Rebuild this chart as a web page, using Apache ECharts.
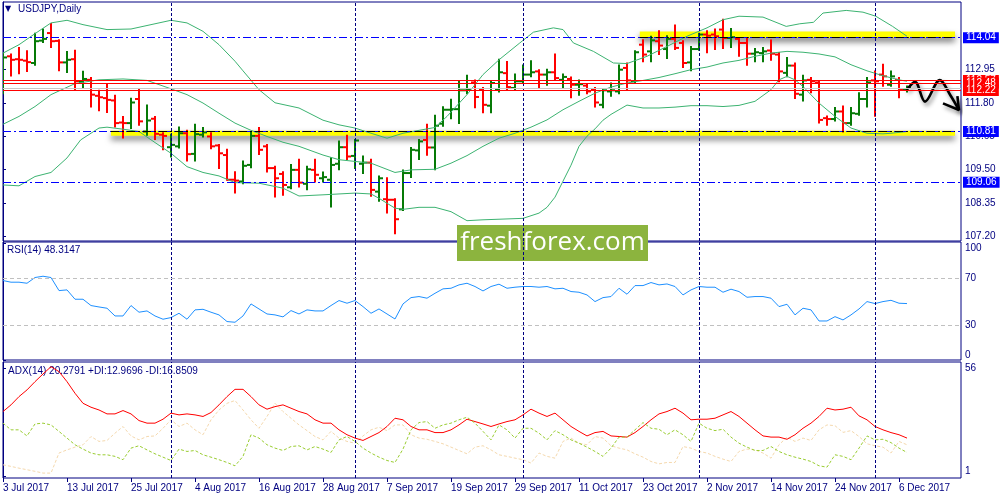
<!DOCTYPE html>
<html>
<head>
<meta charset="utf-8">
<title>USDJPY Daily</title>
<script src="https://cdn.jsdelivr.net/npm/echarts@6/dist/echarts.min.js"></script>
<style>
  html, body { margin: 0; padding: 0; background: #fff; }
  #chart { width: 1000px; height: 500px; }
</style>
</head>
<body>
<div id="chart"></div>
<script>
const symbolTitle = 'USDJPY,Daily';
const rsiTitle = 'RSI(14) 48.3147';
const adxTitle = 'ADX(14) 20.2791 +DI:12.9696 -DI:16.8509';
const watermark = 'freshforex.com';

// bar index of each date label (one label every 8 trading days)
const dateLabelIdx = [0, 8, 16, 24, 32, 40, 48, 56, 64, 72, 80, 88, 96, 104, 112];
const dateLabels = ['3 Jul 2017', '13 Jul 2017', '25 Jul 2017', '4 Aug 2017', '16 Aug 2017',
  '28 Aug 2017', '7 Sep 2017', '19 Sep 2017', '29 Sep 2017', '11 Oct 2017', '23 Oct 2017',
  '2 Nov 2017', '14 Nov 2017', '24 Nov 2017', '6 Dec 2017'];
const monthStarts = [21, 44, 65, 87, 109];

// daily bars: [open, high, low, close]
const bars = [
  [112.40, 113.51, 112.13, 113.36], [113.40, 113.46, 112.74, 113.28], [113.30, 113.69, 112.82, 113.28],
  [113.25, 113.57, 112.89, 113.20], [113.17, 114.18, 113.11, 113.92], [113.94, 114.32, 113.89, 114.00],
  [114.20, 114.51, 113.72, 113.92], [113.93, 113.95, 112.92, 113.19], [113.19, 113.55, 112.86, 113.28],
  [113.30, 113.59, 112.25, 112.54], [112.52, 112.87, 112.34, 112.62], [112.59, 112.65, 111.67, 112.08],
  [112.04, 112.21, 111.54, 111.99], [111.96, 112.42, 111.48, 111.90], [111.88, 112.04, 110.98, 111.10],
  [111.12, 111.31, 110.60, 111.10], [111.10, 111.94, 110.93, 111.81], [111.93, 112.25, 111.04, 111.16],
  [110.81, 111.71, 110.70, 111.19], [111.25, 111.31, 110.55, 110.73], [110.70, 110.75, 110.20, 110.66],
  [110.27, 110.70, 109.95, 110.35], [110.30, 110.95, 110.26, 110.75], [110.75, 110.84, 109.81, 110.03],
  [110.04, 111.04, 109.81, 110.72], [110.70, 110.93, 110.64, 110.78], [110.64, 110.75, 110.23, 110.30],
  [110.33, 110.35, 109.55, 110.06], [110.00, 110.18, 109.15, 109.15], [109.15, 109.41, 108.71, 109.12],
  [109.09, 109.78, 109.03, 109.63], [109.66, 110.78, 109.58, 110.66], [110.66, 110.93, 110.04, 110.18],
  [110.30, 110.35, 109.43, 109.55], [109.55, 109.60, 108.57, 109.20], [109.35, 109.41, 108.63, 108.97],
  [108.89, 109.66, 108.86, 109.49], [109.49, 109.84, 108.92, 109.05], [109.01, 109.60, 108.82, 109.51],
  [109.49, 109.84, 109.09, 109.32], [109.20, 109.40, 109.09, 109.24], [109.15, 109.89, 108.23, 109.66],
  [109.70, 110.47, 109.51, 110.27], [110.27, 110.66, 109.86, 109.95], [109.97, 110.52, 109.55, 110.50],
  [109.70, 109.95, 109.38, 109.74], [109.74, 109.84, 108.60, 108.80], [108.74, 109.26, 108.43, 109.20],
  [108.48, 109.20, 108.02, 108.46], [108.46, 108.48, 107.31, 107.79], [108.13, 109.47, 108.11, 109.38],
  [109.38, 110.24, 109.24, 110.18], [110.16, 110.52, 109.86, 110.47], [110.52, 111.04, 110.01, 110.26],
  [110.26, 111.35, 109.51, 111.01], [111.08, 111.65, 111.01, 111.56], [111.56, 111.90, 111.27, 111.58],
  [111.58, 112.54, 111.10, 112.23], [112.23, 112.73, 112.13, 112.25], [112.50, 112.57, 111.65, 112.00],
  [112.25, 112.31, 111.47, 111.73], [111.70, 112.54, 111.47, 112.48], [112.27, 113.28, 112.19, 112.85],
  [112.82, 113.20, 112.25, 112.34], [112.31, 112.77, 112.25, 112.54], [112.54, 113.08, 112.50, 112.77],
  [112.77, 113.23, 112.71, 112.85], [112.88, 112.92, 112.31, 112.77], [112.77, 112.94, 112.42, 112.85],
  [112.85, 113.46, 112.59, 112.65], [112.59, 112.77, 112.34, 112.69], [112.62, 112.67, 111.99, 112.42],
  [112.42, 112.57, 112.08, 112.44], [112.39, 112.42, 112.13, 112.19], [112.25, 112.31, 111.67, 111.81],
  [111.73, 112.27, 111.65, 112.23], [112.19, 112.46, 112.04, 112.23], [112.19, 113.08, 112.13, 112.94],
  [113.00, 113.15, 112.25, 112.57], [112.54, 113.57, 112.50, 113.54], [113.80, 113.95, 113.23, 113.46],
  [113.57, 114.07, 113.23, 113.95], [113.92, 114.26, 113.48, 113.77], [113.65, 114.09, 113.34, 114.00],
  [114.00, 114.46, 113.65, 113.69], [113.86, 113.92, 113.03, 113.17], [113.19, 113.72, 112.92, 113.65],
  [113.65, 114.18, 113.63, 114.15], [114.15, 114.26, 113.54, 114.11], [114.15, 114.32, 113.65, 114.09],
  [114.32, 114.66, 113.69, 114.03], [114.03, 114.34, 113.72, 114.06], [114.00, 114.03, 113.42, 113.86],
  [113.86, 114.03, 113.11, 113.49], [113.49, 113.65, 113.23, 113.54], [113.51, 113.69, 113.23, 113.57],
  [113.60, 113.94, 113.28, 113.49], [113.46, 113.51, 112.54, 112.88], [112.83, 113.34, 112.71, 113.08],
  [113.08, 113.15, 111.96, 112.11], [112.08, 112.73, 111.88, 112.57], [112.59, 112.65, 112.16, 112.54],
  [112.50, 112.54, 111.12, 111.21], [111.27, 111.33, 111.04, 111.24], [111.24, 111.62, 111.19, 111.50],
  [111.50, 111.67, 110.81, 111.10], [111.10, 111.62, 111.04, 111.44], [111.42, 112.13, 111.39, 111.93],
  [111.93, 112.65, 111.67, 112.50], [112.57, 112.88, 111.35, 112.54], [112.77, 113.11, 112.39, 112.71],
  [112.42, 112.88, 112.39, 112.71], [112.59, 112.65, 111.99, 112.27], [112.25, 112.36, 112.19, 112.31]
];

// Bollinger bands: [bar index, price]
const bbUpper = [[0,113.51],[2,113.80],[4,114.18],[6,114.55],[8,114.64],[10,114.49],[13,114.32],[16,114.34],
  [19,114.52],[21,114.64],[23,114.55],[25,114.26],[27,113.80],[29,113.23],[30,112.90],[32,112.25],[34,111.80],
  [37,111.62],[40,111.20],[42,111.04],[44,110.93],[46,110.75],[48,110.58],[50,110.75],[52,110.85],[54,110.95],
  [55.5,111.33],[58,112.08],[60,112.77],[62,113.28],[64.6,113.86],[66.3,114.23],[68.8,114.38],[70,114.32],
  [71.3,113.86],[73.8,113.57],[76.3,113.17],[78,113.15],[80.5,113.40],[83,113.74],[85.5,114.09],[88,114.38],
  [90,114.66],[92,114.78],[95,114.75],[97.9,114.43],[99.6,114.52],[101.3,114.57],[102.5,114.89],[105.4,114.98],
  [107.5,114.92],[109.1,114.78],[111.2,114.43],[113,114.09]];
const bbMiddle = [[0,111.06],[2,111.33],[4,111.67],[6,112.08],[9,112.46],[12,112.59],[15,112.62],[18,112.57],
  [21,112.28],[23,112.08],[25,111.79],[27,111.44],[29,111.10],[31,110.85],[33,110.64],[35,110.44],[37,110.30],
  [40,110.00],[42,109.84],[44,109.78],[46,109.72],[49,109.40],[51,109.49],[54,109.51],[56,109.72],[58,109.98],
  [60,110.30],[62,110.58],[64,110.75],[66,110.96],[68,111.21],[70,111.56],[72,111.85],[74,112.13],[76,112.34],
  [78,112.48],[80,112.57],[82,112.67],[84,112.80],[86,112.94],[88,113.03],[90,113.17],[92,113.26],[94,113.40],
  [96,113.51],[98,113.57],[100,113.54],[102,113.48],[104,113.38],[106,113.11],[108,112.90],[110,112.73],
  [112,112.59],[113,112.54]];
const bbLower = [[0,108.97],[2,108.94],[4,109.26],[6,109.40],[8,109.90],[9.7,110.52],[12,110.93],[13,110.96],
  [15,110.89],[17,110.81],[19,110.43],[21,110.06],[23,109.60],[25,109.40],[27,109.28],[29,109.05],[32,109.03],
  [35,108.86],[37,108.59],[40,108.63],[44,108.69],[46,108.66],[47,108.51],[49,108.17],[50,108.13],[52,108.20],
  [54,108.20],[56,108.05],[58,107.74],[60,107.77],[62,107.79],[65,107.82],[67,108.00],[68,108.20],[69,108.55],
  [70,109.10],[71,109.65],[72,110.30],[73,110.65],[74,110.90],[75,111.20],[76,111.40],[78,111.72],[80,111.62],
  [82,111.62],[84,111.65],[86,111.70],[88,111.70],[90,111.67],[92,111.71],[94,111.85],[96,112.25],[97,112.59],
  [98,112.71],[99,112.59],[100,112.36],[102,111.79],[104,111.33],[106,110.93],[108,110.75],[110,110.73],
  [111,110.75],[113,110.81]];

const rsi = [68.0,66.6,66.6,65.7,70.6,71.7,70.6,59.4,60.0,52.0,
  52.0,46.6,45.4,44.3,37.7,37.7,46.6,40.9,42.0,37.7,
  34.9,36.3,40.0,34.9,42.9,43.4,40.9,38.6,32.9,32.3,
  37.7,48.0,43.7,39.4,38.6,36.9,42.3,39.4,42.9,42.0,
  42.0,46.6,50.9,48.6,50.9,45.7,40.0,43.7,39.4,35.1,
  48.0,53.4,54.3,52.9,57.1,60.9,61.4,64.3,65.7,62.9,
  59.1,62.9,64.9,61.4,62.3,62.9,62.9,62.3,62.9,60.9,
  61.4,58.6,58.0,55.7,50.0,53.4,54.3,61.4,56.3,63.7,
  63.7,66.3,64.3,65.1,62.9,55.7,60.0,62.9,62.3,62.3,
  58.0,60.6,58.6,53.7,54.3,54.3,52.9,45.7,47.7,38.6,
  44.3,42.9,33.4,33.4,37.1,34.3,38.6,43.7,50.0,48.3,
  50.0,51.1,48.6,48.3];

const adx = [33.8,37.2,41.4,44.8,49.0,52.9,56.6,54.1,49.0,43.1,
  38.0,36.0,34.6,32.6,32.6,34.3,32.6,29.2,27.9,27.9,
  29.9,33.0,32.1,32.6,32.1,31.3,33.3,37.2,41.4,45.1,
  45.1,41.4,37.2,35.0,36.3,37.2,35.5,33.8,32.6,29.6,
  27.9,27.9,24.5,22.0,20.3,19.1,21.1,23.1,26.2,30.4,
  29.6,26.2,24.5,24.5,23.1,23.1,24.5,27.0,29.9,28.7,
  27.5,26.2,27.5,28.7,29.6,32.1,35.0,33.0,31.3,33.0,
  29.6,26.2,23.7,21.4,23.1,23.7,21.4,21.1,20.8,23.1,
  26.2,29.6,32.6,33.8,35.5,33.0,29.6,29.9,29.9,30.4,
  32.1,33.8,31.3,27.9,24.5,21.4,20.8,20.8,19.7,22.0,
  25.3,27.9,31.3,35.5,34.6,35.0,36.0,31.6,29.6,26.2,
  24.5,23.1,22.0,20.3];
const plusDI = [27.9,24.5,24.5,21.4,27.5,27.9,27.0,23.7,20.3,16.9,
  14.7,12.7,11.8,11.8,11.0,9.3,15.2,16.4,14.3,12.3,
  10.6,8.9,14.7,13.5,14.0,11.8,10.6,9.3,7.9,6.2,
  11.0,22.0,20.3,16.9,15.2,14.0,16.0,16.4,14.3,16.0,
  14.7,13.0,19.4,21.1,18.6,15.2,12.7,10.6,8.9,7.9,
  14.7,24.5,28.2,28.7,25.3,27.0,27.9,29.6,30.9,27.9,
  23.7,19.4,27.0,24.5,20.3,25.3,25.3,22.8,19.4,24.1,
  22.0,19.4,17.7,15.7,13.5,11.0,15.2,20.8,20.8,24.5,
  28.2,25.3,24.8,22.0,24.5,22.0,18.6,27.9,25.3,24.1,
  24.8,20.8,17.7,15.7,14.0,14.0,16.0,13.5,11.8,10.6,
  9.6,8.4,6.2,5.5,11.8,11.0,9.3,15.2,21.4,19.4,
  19.7,18.0,15.2,13.0];
const minusDI = [6.7,5.9,5.0,4.2,3.4,2.5,2.5,12.7,14.3,15.7,
  16.9,21.1,18.6,19.1,22.8,26.2,21.4,19.4,21.1,21.4,
  25.3,29.6,26.2,27.9,24.5,22.0,29.6,34.6,38.0,39.4,
  34.6,29.6,25.3,31.3,38.0,33.8,30.4,27.0,24.1,21.1,
  19.4,23.7,20.3,18.6,17.7,21.4,24.5,25.8,24.1,27.0,
  27.0,22.0,20.3,19.7,18.6,17.4,15.7,14.0,12.3,15.7,
  16.4,14.3,11.8,11.0,10.1,9.3,7.6,12.7,11.0,10.1,
  18.6,20.3,17.7,16.9,21.1,20.3,16.4,15.2,14.3,12.3,
  10.6,8.4,7.2,7.9,7.9,16.0,15.2,13.5,12.7,11.0,
  9.6,8.4,13.5,14.7,14.3,12.7,10.1,16.9,20.8,18.6,
  20.3,19.1,24.5,27.0,26.6,23.2,24.1,21.1,17.4,16.4,
  15.7,12.7,18.6,16.9];

const priceTicks = [107.20, 108.35, 109.50, 110.65, 111.80, 112.95];
const rsiTicks = [0, 30, 70, 100];
const rsiLevels = [70, 30];
const adxTicks = [1, 56];

const blueLevels = [114.04, 110.81, 109.06];
const redLevels = [112.57, 112.48, 112.22];
const bidLevel = 112.31;
// yellow zones: [from bar, to bar, low price, high price]
const zones = [[79.6, 119, 114.04, 114.25], [13.5, 119, 110.66, 110.84]];
// hand drawn forecast: [bar index, price]
const forecastPath = [[112.96, 112.24], [114.0, 112.52], [115.25, 111.84], [117.1, 112.58], [118.4, 112.07], [119.5, 111.55]];
const forecastHead = [[117.5, 111.78], [119.5, 111.55], [119.3, 112.03]];

const NAVY = '#000080';
const FONT = 'Liberation Sans';
const UP = '#067a06';
const DOWN = '#ff0000';
const BB = '#3cb371';

const chart = echarts.init(document.getElementById('chart'));

const sepLines = monthStarts.map(i => ({
  xAxis: i, lineStyle: { color: NAVY, type: [3, 2], width: 1 }, label: { show: false }
}));

function priceBox(v, bg) {
  return {
    show: true, position: 'end', distance: 2, formatter: v.toFixed(2),
    color: '#fff', backgroundColor: bg, padding: [1, 3, 0, 3],
    fontSize: 10, fontFamily: FONT
  };
}

function xAxis(gi, labels) {
  return {
    type: 'value', gridIndex: gi, min: 0, max: 119.75,
    axisLine: { show: false }, splitLine: { show: false },
    axisTick: labels ? { show: true, customValues: dateLabelIdx, length: 4, lineStyle: { color: NAVY } } : { show: false },
    axisLabel: labels ? {
      show: true, customValues: dateLabelIdx, align: 'left', color: NAVY, fontSize: 10, fontFamily: FONT, margin: 5,
      formatter: v => dateLabels[dateLabelIdx.indexOf(v)]
    } : { show: false }
  };
}

function yAxis(gi, min, max, ticks, fmt, extra) {
  return {
    type: 'value', gridIndex: gi, position: 'right', min: min, max: max,
    axisLine: { show: true, lineStyle: { color: NAVY, width: 1 } },
    axisTick: { show: true, customValues: ticks, length: 3, lineStyle: { color: NAVY } },
    axisLabel: Object.assign({ customValues: ticks, formatter: fmt, color: NAVY, fontSize: 10, fontFamily: FONT, margin: 4 }, extra || {}),
    splitLine: { show: false }
  };
}

const option = {
  animation: false,
  backgroundColor: '#fff',
  textStyle: { fontFamily: FONT },
  grid: [
    { left: 3, right: 39, top: 2, height: 239, show: true, borderColor: NAVY, borderWidth: 1 },
    { left: 3, right: 39, top: 242, height: 118, show: true, borderColor: NAVY, borderWidth: 1 },
    { left: 3, right: 39, top: 362, height: 116, show: true, borderColor: NAVY, borderWidth: 1 }
  ],
  xAxis: [xAxis(0, false), xAxis(1, false), xAxis(2, true)],
  yAxis: [
    yAxis(0, 107.04, 115.27, priceTicks, v => v.toFixed(2)),
    yAxis(1, 0, 101, rsiTicks, v => String(v), { verticalAlignMaxLabel: 'top', verticalAlignMinLabel: 'bottom' }),
    yAxis(2, 0, 59, adxTicks, v => String(v), { verticalAlignMinLabel: 'bottom' })
  ],
  series: [
    {
      name: 'zones', type: 'line', xAxisIndex: 0, yAxisIndex: 0, data: [], silent: true,
      markArea: {
        silent: true,
        itemStyle: { color: '#ffff00', shadowColor: 'rgba(0,0,0,0.55)', shadowBlur: 6, shadowOffsetY: 4 },
        data: zones.map(z => [{ coord: [z[0], z[3]] }, { coord: [z[1], z[2]] }])
      }
    },
    {
      name: 'USDJPY', type: 'custom', xAxisIndex: 0, yAxisIndex: 0, clip: true,
      data: bars.map((b, i) => [i, b[0], b[1], b[2], b[3]]),
      encode: { x: 0, y: [1, 2, 3, 4] },
      renderItem: function (params, api) {
        const i = api.value(0);
        const o = api.value(1), h = api.value(2), l = api.value(3), c = api.value(4);
        const pH = api.coord([i, h]), pL = api.coord([i, l]);
        const pO = api.coord([i, o]), pC = api.coord([i, c]);
        const col = c >= o ? UP : DOWN;
        const st = { stroke: col, lineWidth: 2 };
        return {
          type: 'group',
          children: [
            { type: 'line', shape: { x1: pH[0], y1: pH[1] - 1, x2: pL[0], y2: pL[1] + 1 }, style: st },
            { type: 'line', shape: { x1: pO[0] - 4, y1: pO[1], x2: pO[0], y2: pO[1] }, style: st },
            { type: 'line', shape: { x1: pC[0], y1: pC[1], x2: pC[0] + 4, y2: pC[1] }, style: st }
          ]
        };
      }
    },
    { name: 'BB upper', type: 'line', xAxisIndex: 0, yAxisIndex: 0, data: bbUpper, showSymbol: false, lineStyle: { color: BB, width: 1 } },
    { name: 'BB middle', type: 'line', xAxisIndex: 0, yAxisIndex: 0, data: bbMiddle, showSymbol: false, lineStyle: { color: BB, width: 1 } },
    { name: 'BB lower', type: 'line', xAxisIndex: 0, yAxisIndex: 0, data: bbLower, showSymbol: false, lineStyle: { color: BB, width: 1 } },
    {
      name: 'levels', type: 'line', xAxisIndex: 0, yAxisIndex: 0, data: [], silent: true,
      markLine: {
        silent: true, symbol: ['none', 'none'], precision: 2,
        data: [].concat(
          sepLines,
          [{ yAxis: bidLevel, lineStyle: { color: '#c8c8c8', type: 'solid', width: 1 }, label: { show: false } }],
          redLevels.map(v => ({ yAxis: v, lineStyle: { color: '#ff0000', type: 'solid', width: 1 }, label: priceBox(v, '#ff0000') })),
          blueLevels.map(v => ({ yAxis: v, lineStyle: { color: '#0000ff', type: [8, 3, 2, 3], width: 1 }, label: priceBox(v, '#0000ff') })),
          zones.map(z => {
            const lv = blueLevels.find(b => b === z[2] || Math.abs(b - z[3]) < 0.05) || z[2];
            return [{ coord: [z[0], lv], lineStyle: { color: '#000', type: [8, 3, 2, 3], width: 1 }, label: { show: false } }, { coord: [z[1], lv] }];
          })
        )
      }
    },
    {
      name: 'forecast', type: 'line', xAxisIndex: 0, yAxisIndex: 0, data: forecastPath, smooth: 0.35, showSymbol: false, clip: false,
      lineStyle: { color: '#000', width: 2.6, shadowColor: 'rgba(0,0,0,0.45)', shadowBlur: 4, shadowOffsetX: 2, shadowOffsetY: 3 }
    },
    {
      name: 'forecast head', type: 'line', xAxisIndex: 0, yAxisIndex: 0, data: forecastHead, showSymbol: false, clip: false,
      lineStyle: { color: '#000', width: 2.6, shadowColor: 'rgba(0,0,0,0.45)', shadowBlur: 4, shadowOffsetX: 2, shadowOffsetY: 3 }
    },
    {
      name: 'RSI', type: 'line', xAxisIndex: 1, yAxisIndex: 1, data: rsi.map((v, i) => [i, v]), showSymbol: false,
      lineStyle: { color: '#1e90ff', width: 1 },
      markLine: {
        silent: true, symbol: ['none', 'none'],
        data: sepLines.concat(rsiLevels.map(v => ({ yAxis: v, lineStyle: { color: '#c0c0c0', type: [4, 3], width: 1 }, label: { show: false } })))
      }
    },
    {
      name: 'ADX', type: 'line', xAxisIndex: 2, yAxisIndex: 2, data: adx.map((v, i) => [i, v]), showSymbol: false,
      lineStyle: { color: '#ff0000', width: 1 },
      markLine: { silent: true, symbol: ['none', 'none'], data: sepLines }
    },
    {
      name: '+DI', type: 'line', xAxisIndex: 2, yAxisIndex: 2, data: plusDI.map((v, i) => [i, v]), showSymbol: false,
      lineStyle: { color: '#9acd32', width: 1, type: [3, 2] }
    },
    {
      name: '-DI', type: 'line', xAxisIndex: 2, yAxisIndex: 2, data: minusDI.map((v, i) => [i, v]), showSymbol: false,
      z: 1,
      lineStyle: { color: '#f5d9ae', width: 1, type: [3, 2] }
    }
  ],
  graphic: [
    { type: 'text', left: 5, top: 5, style: { text: '\u25BC', fill: NAVY, fontSize: 8, fontFamily: 'DejaVu Sans' } },
    { type: 'text', left: 18, top: 4, style: { text: symbolTitle, fill: NAVY, fontSize: 10, fontFamily: FONT } },
    { type: 'text', left: 7, top: 245, style: { text: rsiTitle, fill: NAVY, fontSize: 10, fontFamily: FONT } },
    { type: 'text', left: 8, top: 366, style: { text: adxTitle, fill: NAVY, fontSize: 10, fontFamily: FONT } },
    {
      type: 'group', left: 457, top: 225, z: 100,
      children: [
        { type: 'rect', shape: { x: 0, y: 0, width: 191, height: 36 }, style: { fill: '#8cb43e' } },
        { type: 'text', x: 95.5, y: 18, style: { text: watermark, fill: '#fff', fontSize: 26, fontFamily: 'Open Sans', align: 'center', verticalAlign: 'middle' } }
      ]
    }
  ]
};

chart.setOption(option);
</script>
</body>
</html>
